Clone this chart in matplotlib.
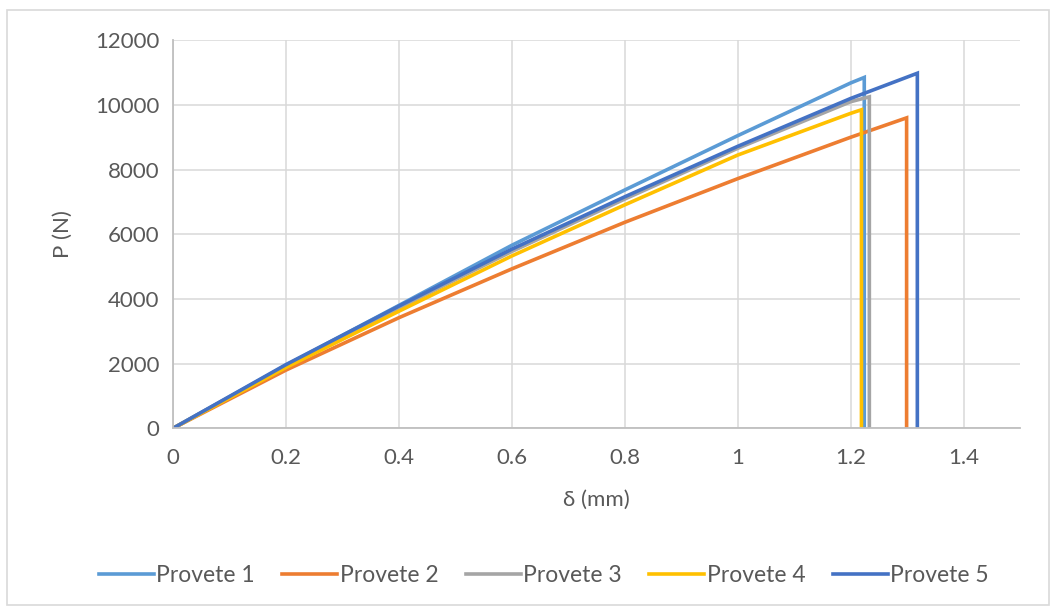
import matplotlib.pyplot as plt
from matplotlib.patches import Rectangle

plt.rcParams['font.family'] = ['Lato', 'DejaVu Sans']

# deslocamento (mm) e carga (N)
d1 = [0, 0.2, 0.4, 0.6, 0.8, 1.0, 1.2, 1.224, 1.224]
p1 = [0, 1950, 3800, 5660, 7370, 9050, 10680, 10850, 0]

d2 = [0, 0.2, 0.4, 0.6, 0.8, 1.0, 1.2, 1.299, 1.299]
p2 = [0, 1800, 3420, 4930, 6370, 7720, 9000, 9600, 0]

d3 = [0, 0.2, 0.4, 0.6, 0.8, 1.0, 1.2, 1.233, 1.233]
p3 = [0, 1930, 3720, 5470, 7090, 8660, 10100, 10250, 0]

d4 = [0, 0.2, 0.4, 0.6, 0.8, 1.0, 1.2, 1.219, 1.219]
p4 = [0, 1880, 3620, 5330, 6910, 8450, 9740, 9850, 0]

d5 = [0, 0.2, 0.4, 0.6, 0.8, 1.0, 1.2, 1.318, 1.318]
p5 = [0, 1970, 3780, 5540, 7160, 8720, 10200, 10980, 0]

labels = ["Provete 1", "Provete 2", "Provete 3", "Provete 4", "Provete 5"]
colors = ["#5B9BD5", "#ED7D31", "#A5A5A5", "#FFC000", "#4472C4"]
xticks = [0, 0.2, 0.4, 0.6, 0.8, 1.0, 1.2, 1.4]
yticks = [0, 2000, 4000, 6000, 8000, 10000, 12000]

fig = plt.figure(figsize=(10.56, 6.10), dpi=100)
ax = fig.add_axes([0.164, 0.298, 0.802, 0.636])

series = [(d1, p1), (d2, p2), (d3, p3), (d4, p4), (d5, p5)]
for (d, p), lab, c in zip(series, labels, colors):
    ax.plot(d, p, color=c, linewidth=2.6, label=lab, solid_joinstyle='miter')

ax.set_xlim(0, 1.5)
ax.set_ylim(0, 12000)
ax.set_xticks(xticks)
ax.set_xticklabels(['{:g}'.format(t) for t in xticks])
ax.set_yticks(yticks)
ax.grid(True, color='#D9D9D9', linewidth=1.1)
ax.set_axisbelow(True)
ax.tick_params(length=0, labelsize=16, labelcolor='#595959')
ax.tick_params(axis='x', pad=14)
ax.tick_params(axis='y', pad=10)

for s in ['top', 'right']:
    ax.spines[s].set_visible(False)
for s in ['left', 'bottom']:
    ax.spines[s].set_color('#BFBFBF')
    ax.spines[s].set_linewidth(1.3)

ax.set_xlabel("δ (mm)", fontsize=16, color='#595959', labelpad=16)
ax.set_ylabel("P (N)", fontsize=16, color='#595959', labelpad=16)

fig.legend(loc='center', bbox_to_anchor=(0.515, 0.057), ncol=5, frameon=False,
           fontsize=16.5, labelcolor='#595959', handlelength=2.4,
           handletextpad=0.1, columnspacing=1.2)

fig.patches.append(Rectangle((0.007, 0.008), 0.986, 0.975, transform=fig.transFigure,
                             fill=False, edgecolor='#D9D9D9', linewidth=1.2))

fig.savefig('out.png', dpi=100)
